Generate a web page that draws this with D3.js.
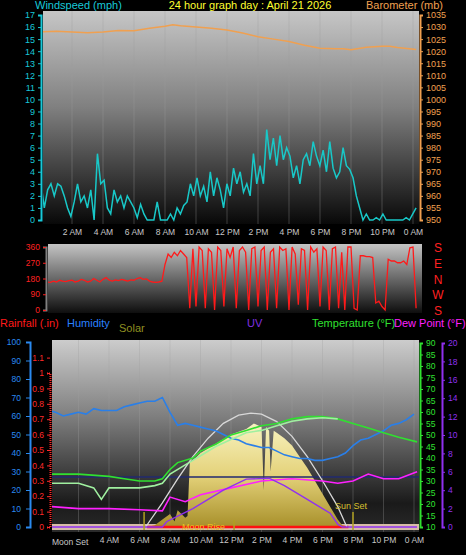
<!DOCTYPE html>
<html><head><meta charset="utf-8">
<script src="https://cdn.jsdelivr.net/npm/d3@7"></script>
<style>body{margin:0;background:#000}svg{display:block;font-family:"Liberation Sans",Arial,sans-serif}</style>
</head><body><svg id="c" width="466" height="555"></svg>
<script>
const title = "24 hour graph day : April 21 2026";
const hourTicks = [2,4,6,8,10,12,14,16,18,20,22,24];
const hourLabels = ["2 AM","4 AM","6 AM","8 AM","10 AM","12 PM","2 PM","4 PM","6 PM","8 PM","10 PM","0 AM"];
const windSpeed = [3,1,2.5,3,2,3,2.8,2,1,0.3,1.5,3,1.5,2,1,2.5,0,5.5,3,3.3,1,0.5,2.5,1.5,2,1,2,1.5,1,0.2,1.3,0.5,0,0,0,1.5,0,0,0,0.5,0,1,0.5,1.2,1.5,3,2,3.5,2,2.8,1.5,4,2,3.5,2.5,1,3,2,4.3,3,4,2.3,3,2,5.5,3,4.5,3,7.5,5,6.8,4.5,7,5,6,5.3,3.5,4.5,3,5,5.5,4.5,6.5,5.3,4.5,5.8,4,6.5,4.3,3.5,4,6,4.5,4.2,3.5,2,1,0,0.5,0,0,0.2,0,0.5,0,0,0,0,0,0,0.2,0,0.5,1];
const baroT = [0,1,2,3,4,5,6,7,8,8.5,9,10,11,12,13,14,15,16,17,18,19,19.5,20,21,22,22.5,23,24.2];
const baroV = [1028,1028.3,1028,1027.6,1028,1028.6,1028.5,1029.5,1030.3,1031,1030.5,1030,1029.5,1028.8,1027.5,1026,1025,1024,1022.5,1021.2,1021,1021,1020.6,1021.6,1022,1022,1021.5,1020.7];
const windDir = [150,155,160,158,165,160,170,165,162,168,170,160,165,175,170,160,165,180,170,160,175,185,170,165,172,168,175,170,165,172,170,180,185,175,178,165,160,158,160,165,
 260,320,300,330,310,340,320,300,
 10,350,20,360,340,10,350,330,0,360,340,20,350,300,360,10,340,360,330,0,350,360,20,340,360,0,330,350,10,360,340,350,0,360,320,30,350,340,0,360,330,350,20,360,340,0,350,360,10,330,
 0,360,360,10,0,310,310,305,305,300,40,50,20,0,290,280,280,270,270,280,260,355,360,10];
const dirLetters = ["S","E","N","W","S"];
const humT = d3.range(0,24.5,0.5);
const humidity = [63,62,60,61,62,61,64,63,63,63,65,66,67,68,68,70,62,55,56,55,54,53,52,50,48,47,45,44,43,43,41,39,38,37,37,36,36,37,38,40,44,47,48,50,52,55,56,58,61];
const tempT = [0,2,4,5,6,7,7.5,8,8.5,9.5,10,11,12,13,14,15,16,17,18,19,20,21,22,23,24.2];
const temperature = [33,33,32,31,30,30,31,35,38,40,43,46,50,52,54,55,57,58,58,57,55,53,51,49,47];
const chillT = [0,2,3,3.5,4,5,6,7,7.5,8,9,10,11,12,13,14,15,16,17,18,19];
const windChill = [29,29,27,22,27,27,27,28,29,33,37,41,45,48,51,52,54,56,57,57.5,57];
const dewT = [0,2,4,6,7.5,8,9,10,12,14,16,18,19,20,21,22,23,24.2];
const dewPoint = [19,18,18,17.5,17,23,21,24,27,30,31,30,29,30,33,31,31,34];
const uvT = [0,7.5,7.8,9.5,11.5,13,14.5,15.5,17,18.5,19,19.3,24.2];
const uv = [0,0,0.6,2,4,5.2,5.3,4.5,3,1.5,0.3,0,0];
const solarT = [6.5,7,7.5,8,8.3,8.5,9,9.15,9.3,9.5,10,11,12,13,13.5,14,14.15,14.3,14.5,14.6,14.8,15,15.5,16,16.5,17,17.5,18,18.5,19,19.3,19.7];
const solar = [0,10,40,70,30,90,50,60,350,360,400,450,500,530,560,540,200,540,520,300,520,510,480,440,380,320,250,180,110,40,10,0];
const theoT = [6.4,7.5,8.5,9.5,10.5,11.5,12.5,13.3,14,15,16,17,18,19,19.6];
const theoSolar = [0,130,260,380,480,560,605,616,610,570,490,380,250,110,0];

const svg = d3.select("#c");
const defs = svg.append("defs");
function grad(id, stops){const g=defs.append("linearGradient").attr("id",id).attr("x1",0).attr("x2",0).attr("y1",0).attr("y2",1);
 stops.forEach(s=>g.append("stop").attr("offset",s[0]).attr("stop-color",s[1]));}
grad("g1",[[0,"#c6c6c6"],[0.45,"#808080"],[1,"#080808"]]);
grad("g2",[[0,"#c4c4c4"],[1,"#0e0e0e"]]);
grad("g3",[[0,"#cccccc"],[0.4,"#7e7e7e"],[0.85,"#1a1a1a"],[1,"#2a2a2a"]]);
grad("gs",[[0,"#f8f3c0"],[0.5,"#e4d27a"],[1,"#a8902a"]]);
function clip(id,x,y,w,h){defs.append("clipPath").attr("id",id).append("rect").attr("x",x).attr("y",y).attr("width",w).attr("height",h);}

// ---------- top panel
const xT = d3.scaleLinear([0,24],[41,413]);
svg.append("rect").attr("x",43).attr("y",11).attr("width",376).attr("height",213).attr("fill","url(#g1)");
clip("c1",43,11,376,213);
svg.append("g").selectAll("line").data(hourTicks).join("line").attr("x1",d=>xT(d)).attr("x2",d=>xT(d)).attr("y1",11).attr("y2",224).attr("stroke","#9a9a9a").attr("stroke-opacity",0.35);
const yW = d3.scaleLinear([0,17],[220,15]);
const yB = d3.scaleLinear([950,1035],[220,15]);
const tW = i=>i*24.2/(windSpeed.length-1);
svg.append("path").attr("clip-path","url(#c1)").attr("d",d3.line().x((d,i)=>xT(tW(i))).y(d=>yW(d))(windSpeed)).attr("fill","none").attr("stroke","#18c8c8").attr("stroke-width",1.5);
svg.append("path").attr("clip-path","url(#c1)").attr("d",d3.line().x((d,i)=>xT(baroT[i])).y(d=>yB(d))(baroV)).attr("fill","none").attr("stroke","#f0a050").attr("stroke-width",1.5);
function styleAxis(g,col,size){g.selectAll("text").attr("fill",col).style("font-size",size+"px");g.selectAll("line,path").attr("stroke",col);g.select(".domain").attr("stroke-width",2);}
svg.append("g").attr("transform","translate(41,0)").call(d3.axisLeft(yW).tickValues(d3.range(0,18)).tickSize(3).tickFormat(d3.format("d"))).call(g=>styleAxis(g,"#18c8d8",9));
svg.append("g").attr("transform","translate(420,0)").call(d3.axisRight(yB).tickValues(d3.range(950,1036,5)).tickSize(3).tickFormat(d3.format("d"))).call(g=>styleAxis(g,"#f0a050",9));
svg.append("g").attr("transform","translate(0,224)").call(d3.axisBottom(xT).tickValues(hourTicks).tickSize(0).tickPadding(5).tickFormat((d,i)=>hourLabels[i])).call(g=>{g.selectAll("text").attr("fill","#c8c8c8").style("font-size","8.5px");g.select(".domain").remove();});
svg.append("text").attr("x",35).attr("y",9).attr("fill","#18c8d8").style("font-size","11px").text("Windspeed (mph)");
svg.append("text").attr("x",250).attr("y",9).attr("text-anchor","middle").attr("fill","#ffff30").style("font-size","11px").text(title);
svg.append("text").attr("x",443).attr("y",9).attr("text-anchor","end").attr("fill","#f0a050").style("font-size","11px").text("Barometer (mb)");

// ---------- middle panel
svg.append("rect").attr("x",48).attr("y",244).attr("width",374).attr("height",69).attr("fill","url(#g2)");
clip("c2",48,244,374,69);
const yD = d3.scaleLinear([0,360],[310,247]);
const tD = i=>i*24.2/(windDir.length-1);
svg.append("path").attr("clip-path","url(#c2)").attr("d",d3.line().x((d,i)=>xT(tD(i))).y(d=>yD(d))(windDir)).attr("fill","none").attr("stroke","#ff1a1a").attr("stroke-width",1.3);
svg.append("g").attr("transform","translate(46,0)").call(d3.axisLeft(yD).tickValues([0,90,180,270,360]).tickSize(3)).call(g=>{styleAxis(g,"#ff2020",8.5);g.select(".domain").attr("stroke","#808080");});
svg.append("g").selectAll("text").data(dirLetters).join("text").attr("x",438).attr("y",(d,i)=>yD(360-i*90)+5).attr("text-anchor","middle").attr("fill","#ff2020").style("font-size","12px").text(d=>d);

// ---------- bottom panel
const xB = d3.scaleLinear([0,24],[48,414]);
const yH = d3.scaleLinear([0,100],[527,342]);
const yR = d3.scaleLinear([0,1],[527,373]);
const yTp = d3.scaleLinear([10,90],[527,343]);
const yU = d3.scaleLinear([0,20],[527,343]);
const yS = d3.scaleLinear([0,1000],[527,342]);
svg.append("rect").attr("x",52).attr("y",340).attr("width",367).attr("height",192).attr("fill","url(#g3)");
clip("c3",52,340,367,192);
svg.append("g").selectAll("line").data(hourTicks).join("line").attr("x1",d=>xB(d)).attr("x2",d=>xB(d)).attr("y1",340).attr("y2",532).attr("stroke","#a0a0a0").attr("stroke-opacity",0.3);
svg.append("rect").attr("x",52).attr("y",524).attr("width",367).attr("height",6).attr("fill","#d8bca8");
const gB = svg.append("g").attr("clip-path","url(#c3)");
gB.append("path").attr("d",d3.area().x((d,i)=>xB(solarT[i])).y0(527).y1(d=>yS(d))(solar)).attr("fill","url(#gs)");
gB.append("line").attr("x1",xB(6.5)).attr("x2",xB(19.7)).attr("y1",527).attr("y2",527).attr("stroke","#ff1010").attr("stroke-width",2.5);
gB.append("line").attr("x1",52).attr("x2",419).attr("y1",477).attr("y2",477).attr("stroke","#202a70").attr("stroke-width",1.5);
const ln=(xs,ys,y,col,w)=>gB.append("path").attr("d",d3.line().x((d,i)=>xB(xs[i])).y(d=>y(d))(ys)).attr("fill","none").attr("stroke",col).attr("stroke-width",w);
ln(theoT,theoSolar,yS,"#d8d8d8",1.3);
ln(humT,humidity,yH,"#2a7fe8",1.6);
ln(tempT,temperature,yTp,"#30e030",1.6);
ln(chillT,windChill,yTp,"#a0f0a0",1.6);
ln(dewT,dewPoint,yTp,"#ff20ff",1.6);
ln(uvT,uv,yU,"#9030f0",1.4);
[[6.3,512],[20,512],[12.2,520]].forEach(m=>gB.append("line").attr("x1",xB(m[0])).attr("x2",xB(m[0])).attr("y1",m[1]).attr("y2",530).attr("stroke","#b0a020").attr("stroke-width",1.5));
svg.append("text").attr("x",335).attr("y",509).attr("fill","#d8c030").style("font-size","9px").text("Sun Set");
svg.append("text").attr("x",182).attr("y",530).attr("fill","#e8c020").style("font-size","9px").text("Moon Rise");
svg.append("g").attr("transform","translate(30,0)").call(d3.axisRight(yH).tickValues(d3.range(0,101,10)).tickSize(-4)).call(g=>{styleAxis(g,"#2a8af0",8.5);g.selectAll("text").attr("text-anchor","end").attr("x",-9);});
svg.append("g").attr("transform","translate(50,0)").call(d3.axisLeft(yR).tickValues(d3.range(0,12).map(d=>d/10)).tickSize(3).tickFormat(d=>d3.format("~g")(d))).call(g=>{styleAxis(g,"#ff2a2a",8.5);g.select(".domain").attr("stroke-dasharray","1,1");});
svg.append("g").attr("transform","translate(420,0)").call(d3.axisRight(yTp).tickValues(d3.range(10,91,5)).tickSize(3)).call(g=>styleAxis(g,"#30e030",8.5));
svg.append("g").attr("transform","translate(442,0)").call(d3.axisRight(yU).tickValues(d3.range(0,21,2)).tickSize(3)).call(g=>styleAxis(g,"#9030f0",8.5));
svg.append("g").attr("transform","translate(0,533)").call(d3.axisBottom(xB).tickValues(hourTicks.slice(1)).tickSize(0).tickPadding(4).tickFormat((d,i)=>hourLabels[i+1])).call(g=>{g.selectAll("text").attr("fill","#c8c8c8").style("font-size","8.5px");g.select(".domain").remove();});
svg.append("text").attr("x",52).attr("y",545).attr("fill","#c8c8c8").style("font-size","8.5px").text("Moon Set");
const leg=[["Rainfall (.in)",0,327,"#ff1a1a"],["Humidity",67,327,"#2a80ff"],["Solar",119,332,"#909020"],["UV",247,327,"#8030e0"],["Temperature (°F)",312,327,"#30e030"],["Dew Point (°F)",394,327,"#ff20ff"]];
svg.append("g").selectAll("text").data(leg).join("text").attr("x",d=>d[1]).attr("y",d=>d[2]).attr("fill",d=>d[3]).style("font-size","11px").text(d=>d[0]);
</script></body></html>
